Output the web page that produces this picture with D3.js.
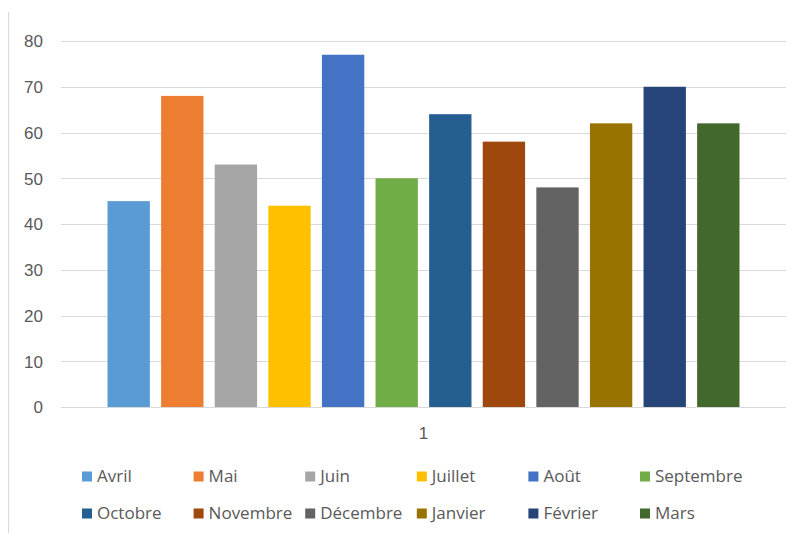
<!DOCTYPE html>
<html>
<head>
<meta charset="utf-8">
<style>
    body { margin: 0; background: #fff; }
    svg { display: block; font-family: 'Open Sans', 'Noto Sans', sans-serif; }
    .tick text { fill: #595959; font-size: 17px; }
    .legend text { fill: #595959; font-size: 17px; }
</style>
</head>
<body>
<svg width="797" height="533"></svg>
<script src="https://d3js.org/d3.v7.min.js"></script>
<script>
    // data
    let categories = ["1"]
    let months = ["Avril", "Mai", "Juin", "Juillet", "Août", "Septembre",
                  "Octobre", "Novembre", "Décembre", "Janvier", "Février", "Mars"]
    let values = [45, 68, 53, 44, 77, 50, 64, 58, 48, 62, 70, 62]
    let colors = ["#5B9BD5", "#ED7D31", "#A5A5A5", "#FFC000", "#4472C4", "#70AD47",
                  "#255E91", "#9E480E", "#636363", "#997300", "#264478", "#43682B"]
    let yTicks = [0, 10, 20, 30, 40, 50, 60, 70, 80]

    let svg = d3.select("svg")

    let plotLeft = 61, plotRight = 786, plotTop = 41, plotBottom = 407

    // chart frame (only left edge visible)
    svg.append("line")
        .attr("x1", 8.5).attr("x2", 8.5)
        .attr("y1", 12).attr("y2", 533)
        .style("stroke", "#D9D9D9")

    let y = d3.scaleLinear()
        .domain([0, 80])
        .range([plotBottom, plotTop])

    let x0 = d3.scaleBand()
        .domain(categories)
        .range([plotLeft, plotRight])
        .paddingInner(0)
        .paddingOuter(0.0736)

    let x1 = d3.scaleBand()
        .domain(months)
        .range([0, x0.bandwidth()])
        .paddingInner(0.21)
        .paddingOuter(0)

    // gridlines
    svg.selectAll(".grid")
        .data(yTicks)
        .join("line")
        .attr("x1", plotLeft).attr("x2", plotRight)
        .attr("y1", d => Math.round(y(d)) + 0.5)
        .attr("y2", d => Math.round(y(d)) + 0.5)
        .style("stroke", "#D9D9D9")
        .style("stroke-width", 1)

    // y axis labels
    let yAxis = svg.append("g")
        .attr("transform", `translate(${plotLeft - 18},0)`)
        .call(d3.axisLeft(y).tickValues(yTicks).tickSize(0).tickPadding(0))
    yAxis.select(".domain").remove()
    yAxis.selectAll("text").attr("dy", "0.35em")

    // bars
    let group = svg.selectAll(".cat")
        .data(categories)
        .join("g")
        .attr("transform", d => `translate(${x0(d)},0)`)

    group.selectAll("rect")
        .data(months.map((m, i) => ({ month: m, value: values[i], color: colors[i] })))
        .join("rect")
        .attr("x", d => x1(d.month))
        .attr("width", x1.bandwidth())
        .attr("y", d => y(d.value))
        .attr("height", d => y(0) - y(d.value))
        .style("fill", d => d.color)

    // x axis label
    let xAxis = svg.append("g")
        .attr("transform", `translate(0,${plotBottom + 20})`)
        .call(d3.axisBottom(x0).tickSize(0).tickPadding(0))
    xAxis.select(".domain").remove()
    xAxis.selectAll("text").attr("dy", "0.35em").attr("y", 6)

    // legend
    let legX = d3.scaleBand()
        .domain(d3.range(6))
        .range([82, 82 + 6 * 111.6])
    let legY = d3.scaleBand()
        .domain([0, 1])
        .range([458, 532])

    let legend = svg.append("g").attr("class", "legend")
        .selectAll("g")
        .data(months)
        .join("g")
        .attr("transform", (d, i) => `translate(${legX(i % 6)},${legY(Math.floor(i / 6)) + legY.bandwidth() / 2})`)

    legend.append("rect")
        .attr("x", 0).attr("y", -5)
        .attr("width", 10).attr("height", 10)
        .style("fill", (d, i) => colors[i])

    legend.append("text")
        .attr("x", 15)
        .attr("dy", "0.35em")
        .text(d => d)
</script>
</body>
</html>
